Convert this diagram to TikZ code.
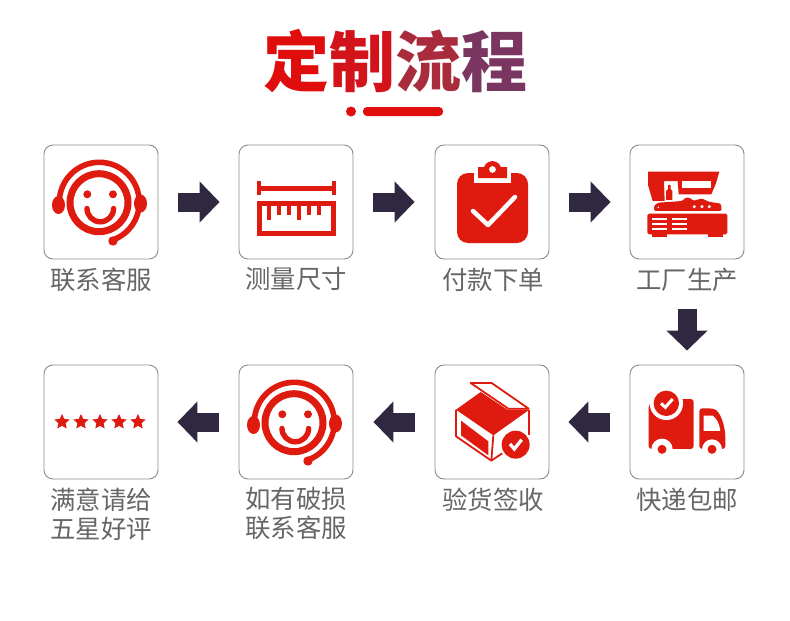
\documentclass[tikz,border=0pt]{standalone}
\usepackage{fontspec}
\setmainfont{Noto Sans CJK SC}
\usepackage{tikz}
\usetikzlibrary{arrows.meta, shapes.geometric}
\definecolor{iconred}{HTML}{DE1B0E}
\definecolor{titlered}{HTML}{E00D0D}
\definecolor{arrowdark}{HTML}{2F2840}
\definecolor{labelgray}{HTML}{666666}
\definecolor{boxgray}{HTML}{8C8C8C}
\tikzset{
  stepbox/.style={draw=boxgray, line width=0.9pt, rounded corners=9pt, minimum size=114pt, inner sep=0pt},
  steplabel/.style={text=labelgray, font=\fontsize{25.4}{29}\selectfont, align=center, inner sep=0pt},
  flow/.style={draw=arrowdark, line width=19pt, -{Triangle[length=20pt,width=40pt,fill=arrowdark]}},
  iconfill/.style={fill=iconred, draw=none},
  iconline/.style={draw=iconred, line cap=butt},
  staricon/.style={star, star points=5, star point ratio=2.1, fill=iconred, draw=none, minimum size=16pt, inner sep=0pt},
  zoomed/.style={x=0.3333pt,y=-0.3333pt}
}
\newcommand{\smileicon}[1]{%
\begin{scope}[shift={(#1)}]
\draw[iconline, line width=7pt] (-2,0.7) circle (29pt);
\draw[iconline, line width=5.6pt] (-1.7,0.3) ++(180:40pt) arc[start angle=180, end angle=-72, radius=40pt];
\fill[iconfill] (-42.5,3) ellipse (6.5pt and 9pt);
\fill[iconfill] (39.5,1.5) ellipse (6.5pt and 9pt);
\fill[iconfill] (12,39) circle (4.7pt);
\fill[iconfill] (-13.7,-7.7) circle (4pt);
\fill[iconfill] (12,-7.7) circle (4pt);
\draw[iconline, line width=5.4pt, line cap=round] (-14,6.5) arc[start angle=180, end angle=360, radius=13.3pt];
\end{scope}}
\begin{document}
\begin{tikzpicture}[x=1pt,y=-1pt]
\useasboundingbox (0,0) rectangle (790,621);
\fill[white] (0,0) rectangle (790,621);
% title
\node[inner sep=0pt, font=\bfseries\fontsize{66}{70}\selectfont] (title) at (395,61)
  {\textcolor[HTML]{E00D0D}{定}\textcolor[HTML]{D2131A}{制}\textcolor[HTML]{A92C3C}{流}\textcolor[HTML]{7A3560}{程}};
\fill[titlered] (351,111.5) circle (5pt);
\fill[titlered, rounded corners=4pt] (363,107) rectangle (443,116);
% boxes
\node[stepbox] (kefu) at (101,202) {};
\node[stepbox] (celiang) at (296,202) {};
\node[stepbox] (fukuan) at (492,202) {};
\node[stepbox] (gongchang) at (687,202) {};
\node[stepbox] (pingjia) at (101,422) {};
\node[stepbox] (posun) at (296,422) {};
\node[stepbox] (yanhuo) at (492,422) {};
\node[stepbox] (kuaidi) at (687,422) {};
% labels
\node[steplabel] (kefulabel) at (101,280) {联系客服};
\node[steplabel] (celianglabel) at (296,279) {测量尺寸};
\node[steplabel] (fukuanlabel) at (493,280) {付款下单};
\node[steplabel] (gongchanglabel) at (687,280) {工厂生产};
\node[steplabel] (pingjialabel) at (101,514) {满意请给\\五星好评};
\node[steplabel] (posunlabel) at (296,513) {如有破损\\联系客服};
\node[steplabel] (yanhuolabel) at (493,500) {验货签收};
\node[steplabel] (kuaidilabel) at (687,500) {快递包邮};
% arrows
\draw[flow, shorten <=20pt, shorten >=19pt] (kefu.east) -- (celiang.west);
\draw[flow, shorten <=20pt, shorten >=20pt] (celiang.east) -- (fukuan.west);
\draw[flow, shorten <=20pt, shorten >=19pt] (fukuan.east) -- (gongchang.west);
\draw[flow, shorten <=50pt, shorten >=14pt] (gongchang.south) -- (kuaidi.north);
\draw[flow, shorten <=20pt, shorten >=19pt] (kuaidi.west) -- (yanhuo.east);
\draw[flow, shorten <=20pt, shorten >=20pt] (yanhuo.west) -- (posun.east);
\draw[flow, shorten <=20pt, shorten >=19pt] (posun.west) -- (pingjia.east);
% smiles
\smileicon{kefu.center}
\smileicon{posun.center}
% ruler
\fill[iconfill] (257,185.5) rectangle (336,190.5);
\fill[iconfill] (257,180.5) rectangle (261,195);
\fill[iconfill] (332,180.5) rectangle (336,195);
\draw[iconline, line width=5pt] (259.2,203) rectangle (333.8,233.2);
\foreach \tx/\ty in {267/220,277/215,287/215,297/220,307/215,317/215}
  \fill[iconfill] (\tx,203) rectangle (\tx+4.3,\ty);
% clipboard
\fill[iconfill, rounded corners=11pt] (457,173) rectangle (528,243);
\fill[white] (473.5,165) rectangle (511,183);
\fill[iconfill] (478,178) -- (478,167) -- (484,167) arc[start angle=160, end angle=20, radius=9pt] -- (507,167) -- (507,178) -- cycle;
\fill[white] (492.5,169.5) circle (3.4pt);
\draw[white, line width=4.5pt, line cap=round, line join=round] (473,211) -- (488,225) -- (515,197);
% machine
\begin{scope}[shift={(640,165)}, zoomed]
\fill[iconfill] (24,20) -- (238,20) -- (228,55) -- (214,88) -- (116,88) -- (113,48) -- (72,48) -- (74,108) -- (38,108) -- (24,60) -- cycle;
\fill[white] (125,48) rectangle (212,68);
\fill[iconfill] (78,105) -- (78,78) -- (84,72) -- (84,60) -- (92,60) -- (92,72) -- (97,78) -- (97,105) -- cycle;
\fill[iconfill, rounded corners=1.5pt] (42,138) -- (42,122) -- (55,113) -- (128,108) -- (135,98) -- (150,98) -- (160,108) -- (185,100) -- (205,110) -- (243,116) -- (245,138) -- cycle;
\foreach \dx in {163,186,208}
  \fill[white] (\dx,125) circle (1.7pt);
\fill[white] (55,127) circle (0.9pt);
\fill[iconfill, rounded corners=1.5pt] (22,146) rectangle (262,208);
\fill[iconfill] (35,203) rectangle (80,216);
\fill[iconfill] (205,203) rectangle (248,216);
\foreach \ly in {160,175,190} {
  \fill[white] (36,\ly) rectangle (82,\ly+5);
  \fill[white] (97,\ly) rectangle (142,\ly+5);
}
\end{scope}
% parcel
\begin{scope}[shift={(450,378)}, zoomed]
\draw[iconline, line width=1.8pt, line join=round, fill=white] (62,15) -- (125,15) -- (236,92) -- (175,92) -- cycle;
\fill[iconfill] (18,95) -- (92,42) -- (172,95) -- (238,95) -- (130,172) -- cycle;
\draw[iconline, line width=1.8pt, line join=round] (18,95) -- (18,175) -- (124,248) -- (160,224);
\draw[iconline, line width=1.8pt] (130,172) -- (124,248);
\draw[iconline, line width=1.8pt] (237,95) -- (237,170);
\fill[iconfill] (33,128) -- (115,190) -- (115,232) -- (33,172) -- cycle;
\fill[white] (197,200) circle (16pt);
\fill[iconfill] (197,200) circle (14pt);
\draw[white, line width=3.3pt] (180,198) -- (193,213) -- (215,185);
\end{scope}
% truck
\begin{scope}[shift={(642,385)}, zoomed]
\fill[iconfill, rounded corners=3pt] (20,192) -- (20,58) -- (60,42) -- (155,42) -- (155,192) -- cycle;
\fill[white] (73,55) circle (16.7pt);
\fill[iconfill] (73,55) circle (12.7pt);
\draw[white, line width=3pt] (57,55) -- (70,67) -- (92,42);
\fill[iconfill, rounded corners=3pt] (172,192) -- (172,70) -- (205,70) .. controls (235,75) and (250,125) .. (250,165) -- (250,192) -- cycle;
\fill[white] (185,92) -- (212,92) .. controls (225,100) and (233,120) .. (235,138) -- (185,138) -- cycle;
\fill[white] (60,193) circle (10.7pt);
\fill[iconfill] (60,193) circle (4.5pt);
\fill[white] (210,193) circle (10pt);
\fill[iconfill] (210,193) circle (4.5pt);
\end{scope}
% stars
\foreach \sx/\sname in {62/a,81/b,100/c,119/d,138/e}
  \node[staricon] (star\sname) at (\sx,422) {};
\end{tikzpicture}
\end{document}
